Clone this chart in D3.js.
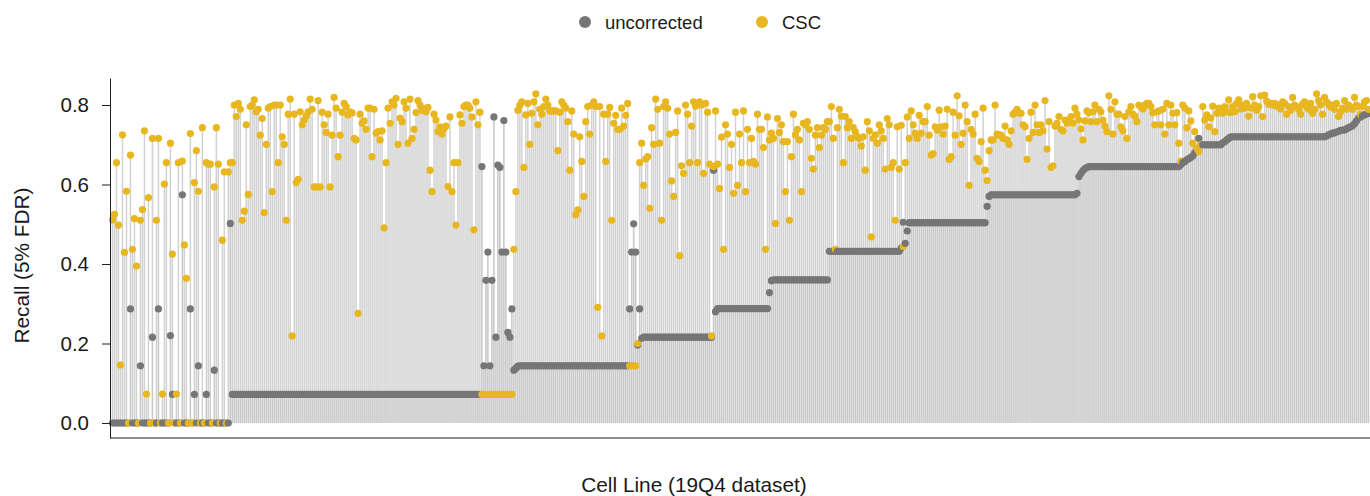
<!DOCTYPE html>
<html>
<head>
<meta charset="utf-8">
<script src="https://cdn.jsdelivr.net/npm/d3@7"></script>
<style>
  body { margin: 0; background: #fff; }
  svg { display: block; }
  text { font-family: "Liberation Sans", Arial, Helvetica, sans-serif; fill: #1a1a1a; }
</style>
</head>
<body>
<svg id="chart" width="1370" height="496"></svg>
<script>
// Recall at 5% FDR per cell line, ordered along the x axis (one entry per cell line).
const uncorrected = [
  0,0,0,0,0,0,0,0,0,.287,
  0,0,0,0,.144,0,0,0,0,0,
  .216,0,0,.287,0,0,0,0,0,.22,
  .072,0,0,0,0,.574,0,0,0,.287,
  0,.072,0,.144,0,0,0,.072,0,0,
  0,.133,0,0,0,0,0,0,0,.502,
  .072,.072,.072,.072,.072,.072,.072,.072,.072,.072,
  .072,.072,.072,.072,.072,.072,.072,.072,.072,.072,
  .072,.072,.072,.072,.072,.072,.072,.072,.072,.072,
  .072,.072,.072,.072,.072,.072,.072,.072,.072,.072,
  .072,.072,.072,.072,.072,.072,.072,.072,.072,.072,
  .072,.072,.072,.072,.072,.072,.072,.072,.072,.072,
  .072,.072,.072,.072,.072,.072,.072,.072,.072,.072,
  .072,.072,.072,.072,.072,.072,.072,.072,.072,.072,
  .072,.072,.072,.072,.072,.072,.072,.072,.072,.072,
  .072,.072,.072,.072,.072,.072,.072,.072,.072,.072,
  .072,.072,.072,.072,.072,.072,.072,.072,.072,.072,
  .072,.072,.072,.072,.072,.072,.072,.072,.072,.072,
  .072,.072,.072,.072,.072,.645,.144,.359,.43,.144,
  .359,.77,.216,.649,.643,.43,.761,.43,.228,.216,
  .287,.133,.138,.143,.144,.144,.144,.144,.144,.144,
  .144,.144,.144,.144,.144,.144,.144,.144,.144,.144,
  .144,.144,.144,.144,.144,.144,.144,.144,.144,.144,
  .144,.144,.144,.144,.144,.144,.144,.144,.144,.144,
  .144,.144,.144,.144,.144,.144,.144,.144,.144,.144,
  .144,.144,.144,.144,.144,.144,.144,.144,.144,.287,
  .43,.501,.43,.196,.287,.213,.216,.216,.216,.216,
  .216,.216,.216,.216,.216,.216,.216,.216,.216,.216,
  .216,.216,.216,.216,.216,.216,.216,.216,.216,.216,
  .216,.216,.216,.216,.216,.216,.216,.216,.216,.216,
  .216,.636,.28,.288,.288,.288,.288,.288,.288,.288,
  .288,.288,.288,.288,.288,.288,.288,.288,.288,.288,
  .288,.288,.288,.288,.288,.288,.288,.288,.288,.328,
  .358,.36,.36,.36,.36,.36,.36,.36,.36,.36,
  .36,.36,.36,.36,.36,.36,.36,.36,.36,.36,
  .36,.36,.36,.36,.36,.36,.36,.36,.36,.432,
  .432,.432,.432,.432,.432,.432,.432,.432,.432,.432,
  .432,.432,.432,.432,.432,.432,.432,.432,.432,.432,
  .432,.432,.432,.432,.432,.432,.432,.432,.432,.432,
  .432,.432,.432,.432,.432,.44,.505,.452,.483,.504,
  .504,.504,.504,.504,.504,.504,.504,.504,.504,.504,
  .504,.504,.504,.504,.504,.504,.504,.504,.504,.504,
  .504,.504,.504,.504,.504,.504,.504,.504,.504,.504,
  .504,.504,.504,.504,.504,.504,.504,.504,.545,.57,
  .574,.574,.574,.574,.574,.574,.574,.574,.574,.574,
  .574,.574,.574,.574,.574,.574,.574,.574,.574,.574,
  .574,.574,.574,.574,.574,.574,.574,.574,.574,.574,
  .574,.574,.574,.574,.574,.574,.574,.574,.574,.574,
  .574,.574,.574,.578,.62,.628,.635,.64,.643,.645,
  .645,.645,.645,.645,.645,.645,.645,.645,.645,.645,
  .645,.645,.645,.645,.645,.645,.645,.645,.645,.645,
  .645,.645,.645,.645,.645,.645,.645,.645,.645,.645,
  .645,.645,.645,.645,.645,.645,.645,.645,.645,.645,
  .645,.645,.645,.645,.645,.65,.655,.658,.662,.665,
  .668,.672,.68,.69,.716,.70,.70,.70,.70,.70,
  .70,.70,.70,.70,.70,.70,.705,.708,.712,.716,
  .72,.72,.72,.72,.72,.72,.72,.72,.72,.72,
  .72,.72,.72,.72,.72,.72,.72,.72,.72,.72,
  .72,.72,.72,.72,.72,.72,.72,.72,.72,.72,
  .72,.72,.72,.72,.72,.72,.72,.72,.72,.72,
  .72,.72,.72,.72,.72,.72,.72,.72,.722,.725,
  .727,.729,.73,.732,.734,.736,.737,.737,.74,.743,
  .745,.748,.753,.76,.767,.77,.773,.775,.777,.779
];

const csc = [
  .511,.525,.655,.498,.146,.725,.429,.583,0,.674,
  .437,.514,.395,0,.51,.537,.735,.073,.567,0,
  .716,0,.51,.716,0,.073,.601,.655,0,.704,
  .425,0,.073,.655,0,.659,.448,.364,0,.728,
  0,.605,.685,.583,0,.743,0,.655,.651,.651,
  0,.594,.743,.651,0,.46,.632,0,.632,.655,
  .655,.8,.771,.804,.789,.51,.533,.75,.575,.796,
  .8,.813,.783,.789,.724,.766,.529,.701,.792,.796,
  .582,.8,.8,.655,.8,.72,.701,.51,.777,.815,
  .219,.777,.605,.613,.783,.75,.762,.773,.783,.815,
  .789,.594,.594,.811,.594,.782,.75,.731,.777,.594,
  .724,.819,.792,.67,.724,.782,.804,.796,.775,.783,
  .78,.716,.712,.276,.777,.754,.76,.739,.792,.792,
  .67,.789,.729,.733,.712,.735,.491,.655,.792,.754,
  .808,.8,.817,.701,.767,.758,.808,.792,.704,.815,
  .716,.739,.781,.811,.8,.787,.79,.783,.794,.636,
  .582,.777,.762,.733,.745,.727,.741,.747,.595,.77,
  .582,.655,.498,.655,.775,.754,.796,.8,.8,.792,
  .77,.486,.808,.75,.782,.072,.072,.072,.072,.072,
  .072,.072,.072,.072,.072,.072,.072,.072,.072,.072,
  .072,.437,.582,.787,.8,.808,.643,.775,.804,.701,
  .779,.808,.828,.75,.789,.777,.796,.815,.8,.785,
  .785,.785,.785,.685,.782,.808,.8,.792,.758,.636,
  .785,.727,.524,.536,.72,.658,.57,.758,.796,.727,
  .8,.808,.796,.291,.796,.219,.777,.658,.777,.794,
  .51,.754,.774,.739,.739,.792,.747,.774,.804,.144,
  .144,.144,.144,.2,.655,.704,.598,.664,.67,.54,
  .743,.701,.815,.789,.704,.51,.796,.808,.792,.727,
  .609,.57,.731,.785,.421,.647,.628,.8,.777,.655,
  .747,.808,.797,.655,.808,.8,.628,.804,.782,.651,
  .219,.645,.785,.651,.59,.719,.437,.75,.727,.643,
  .701,.578,.782,.598,.727,.655,.785,.582,.739,.655,
  .716,.658,.651,.777,.739,.739,.693,.437,.77,.712,
  .729,.716,.502,.766,.731,.75,.708,.582,.708,.51,
  .67,.777,.725,.739,.712,.582,.754,.75,.758,.739,
  .666,.639,.724,.743,.693,.724,.743,.739,.758,.758,
  .796,.716,.437,.743,.789,.772,.655,.771,.743,.758,
  .716,.743,.733,.72,.716,.697,.72,.636,.758,.735,
  .468,.716,.725,.704,.75,.735,.716,.639,.766,.75,
  .643,.655,.51,.745,.639,.749,.444,.655,.77,.716,
  .785,.75,.729,.716,.774,.729,.758,.758,.796,.724,
  .674,.678,.745,.737,.787,.745,.727,.747,.789,.663,
  .67,.782,.724,.823,.773,.701,.729,.8,.758,.598,
  .739,.727,.777,.666,.658,.708,.792,.636,.61,.685,
  .712,.712,.8,.727,.724,.724,.716,.747,.712,.701,
  .735,.777,.782,.789,.78,.779,.75,.745,.663,.716,
  .782,.731,.8,.75,.731,.75,.735,.811,.689,.758,
  .643,.647,.747,.754,.771,.739,.735,.762,.754,.762,
  .771,.754,.792,.777,.762,.74,.712,.76,.785,.781,
  .758,.783,.8,.758,.789,.783,.762,.747,.733,.823,
  .789,.727,.808,.777,.777,.745,.735,.771,.716,.783,
  .796,.777,.772,.758,.8,.796,.79,.8,.804,.804,
  .796,.78,.75,.783,.785,.75,.789,.727,.804,.75,
  .8,.779,.75,.781,.704,.659,.8,.792,.743,.785,
  .76,.704,.733,.691,.683,.7,.796,.762,.775,.745,
  .767,.797,.733,.779,.792,.787,.779,.796,.783,.813,
  .781,.796,.783,.804,.813,.79,.8,.792,.804,.772,
  .792,.821,.8,.787,.796,.823,.771,.825,.81,.802,
  .804,.8,.804,.797,.8,.79,.808,.804,.777,.796,
  .787,.819,.8,.796,.789,.777,.802,.808,.795,.789,
  .804,.779,.789,.828,.811,.8,.777,.819,.808,.802,
  .795,.8,.789,.804,.771,.783,.792,.811,.789,.8,
  .795,.789,.819,.8,.796,.777,.796,.808,.811,.789
];

const yTicks = [0, 0.2, 0.4, 0.6, 0.8];
const seriesNames = ["uncorrected", "CSC"];
const seriesColors = ["#767676", "#E8B720"];

const svg = d3.select("#chart");
const n = uncorrected.length;

// Cell lines are evenly spaced; the panel runs from the y axis to the right edge.
const x = d3.scaleLinear().domain([-1, n]).range([110.5, 1370.5]);
const y = d3.scaleLinear().domain([-0.0377, 0.8679]).range([438, 78]);

const cells = d3.range(n).map(i => ({
  i, u: uncorrected[i], c: csc[i], top: Math.max(uncorrected[i], csc[i])
}));

// Stems: a full stem from zero to the higher of the two values, plus a fainter
// one up to the uncorrected value so the part under the grey curve reads darker.
const stems = svg.append("g");
[["top", 0.45], ["u", 0.18]].forEach(([key, alpha]) => {
  stems.append("g")
    .selectAll("line")
    .data(cells)
    .join("line")
    .attr("x1", d => x(d.i)).attr("x2", d => x(d.i))
    .attr("y1", y(0)).attr("y2", d => y(d[key]))
    .attr("stroke", "#9c9c9c")
    .attr("stroke-opacity", alpha)
    .attr("stroke-width", 1.5);
});

// Points: for each cell line the uncorrected point, then its CSC point on top.
const pts = cells.flatMap(d => [
  { i: d.i, v: d.u, s: 0 },
  { i: d.i, v: d.c, s: 1 }
]);
svg.append("g")
  .selectAll("circle")
  .data(pts)
  .join("circle")
  .attr("cx", d => x(d.i))
  .attr("cy", d => y(d.v))
  .attr("r", 3.6)
  .attr("fill", d => seriesColors[d.s]);

// Axes
const yAxis = svg.append("g")
  .attr("transform", "translate(110,0)")
  .call(d3.axisLeft(y).tickValues(yTicks).tickFormat(d3.format(".1f"))
    .tickSize(8).tickSizeOuter(0).tickPadding(13));
yAxis.select(".domain").attr("stroke", "#222");
yAxis.selectAll(".tick line").attr("stroke", "#222");
yAxis.selectAll(".tick text").attr("font-size", 20.5).attr("fill", "#1a1a1a")
  .style("font-family", "'Liberation Sans', Arial, sans-serif");

const xAxis = svg.append("g")
  .attr("transform", "translate(0,438)")
  .call(d3.axisBottom(x).tickValues([]).tickSizeOuter(0));
xAxis.select(".domain").attr("stroke", "#222").attr("d", "M110,0H1370");

// Axis titles
svg.append("text")
  .attr("x", 694).attr("y", 492)
  .attr("text-anchor", "middle")
  .attr("font-size", 20.8)
  .text("Cell Line (19Q4 dataset)");

svg.append("text")
  .attr("transform", "translate(29,265.5) rotate(-90)")
  .attr("text-anchor", "middle")
  .attr("font-size", 20.8)
  .text("Recall (5% FDR)");

// Legend
const legendX = [585, 762];
const legend = svg.append("g");
seriesNames.forEach((name, k) => {
  legend.append("circle")
    .attr("cx", legendX[k]).attr("cy", 22).attr("r", 6)
    .attr("fill", seriesColors[k]);
  legend.append("text")
    .attr("x", legendX[k] + 20).attr("y", 28.5)
    .attr("font-size", 18.5)
    .text(name);
});
</script>
</body>
</html>
